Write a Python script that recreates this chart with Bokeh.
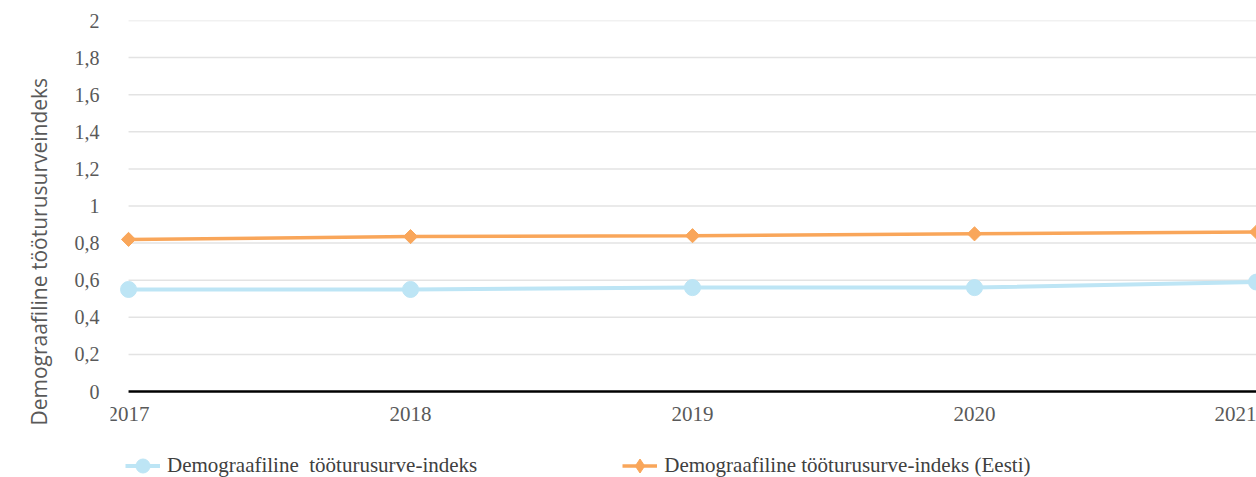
import math
from bokeh.plotting import figure
from bokeh.models import Range1d, Legend, LegendItem, FixedTicker, ColumnDataSource
from bokeh.embed import file_html
from bokeh.resources import INLINE

years = [2017, 2018, 2019, 2020, 2021]
index_local = [0.55, 0.55, 0.56, 0.56, 0.59]
index_eesti = [0.82, 0.835, 0.84, 0.85, 0.86]
y_ticks = [0, 0.2, 0.4, 0.6, 0.8, 1.0, 1.2, 1.4, 1.6, 1.8, 2.0]
y_tick_labels = ["0", "0,2", "0,4", "0,6", "0,8", "1", "1,2", "1,4", "1,6", "1,8", "2"]
series_names = ["Demograafiline  tööturusurve-indeks", "Demograafiline tööturusurve-indeks (Eesti)"]
y_title = "Demograafiline  tööturusurveindeks"

BLUE = "#bde5f5"
ORANGE = "#f9a65a"
TICK_COLOR = "#595959"
SERIF = "Liberation Serif"

# layout: value axis occupies 371px, area below zero holds tick labels and legend
PLOT_PX = 371
BELOW_PX = 86
y_start = y_ticks[0] - (y_ticks[-1] - y_ticks[0]) * BELOW_PX / PLOT_PX

p = figure(frame_width=1146, frame_height=PLOT_PX + BELOW_PX, output_backend="svg", toolbar_location=None,
           x_range=Range1d(years[0] - 0.064, years[-1]), y_range=Range1d(y_start, y_ticks[-1]),
           min_border_left=110, min_border_right=0, min_border_top=20, min_border_bottom=0)
p.outline_line_color = None
p.background_fill_color = "white"
p.border_fill_color = "white"

# grid lines drawn only over the year span
p.xgrid.visible = False
p.ygrid.visible = False
gy = y_ticks[1:]
p.segment(x0=[years[0]] * len(gy), x1=[years[-1]] * len(gy), y0=gy, y1=gy,
          line_color="#e3e3e3", line_width=1.5)
p.segment(x0=[years[0]], x1=[years[-1]], y0=[y_ticks[0]], y1=[y_ticks[0]],
          line_color="black", line_width=2.5)

# y axis
p.yaxis.ticker = FixedTicker(ticks=y_ticks)
p.yaxis.major_label_overrides = {t: l for t, l in zip(y_ticks, y_tick_labels)}
p.yaxis.axis_line_color = None
p.yaxis.major_tick_line_color = None
p.yaxis.minor_tick_line_color = None
p.yaxis.major_label_text_font = SERIF
p.yaxis.major_label_text_font_size = "20px"
p.yaxis.major_label_text_color = TICK_COLOR
p.yaxis.major_label_standoff = 5
p.yaxis.axis_label = y_title
p.yaxis.axis_label_text_font = "Open Sans"
p.yaxis.axis_label_text_font_style = "normal"
p.yaxis.axis_label_text_font_size = "21px"
p.yaxis.axis_label_text_color = TICK_COLOR
p.yaxis.axis_label_standoff = 19

# x axis, drawn at value zero
p.xaxis.fixed_location = y_ticks[0]
p.xaxis.ticker = FixedTicker(ticks=years)
p.xaxis.axis_line_color = None
p.xaxis.major_tick_line_color = None
p.xaxis.minor_tick_line_color = None
p.xaxis.major_label_text_font = SERIF
p.xaxis.major_label_text_font_size = "21px"
p.xaxis.major_label_text_color = TICK_COLOR
p.xaxis.major_label_standoff = 9

src = ColumnDataSource(dict(x=years, a=index_local, b=index_eesti))
l1 = p.line("x", "a", source=src, line_color=BLUE, line_width=4)
m1 = p.scatter("x", "a", source=src, marker="circle", size=16, fill_color=BLUE, line_color=BLUE)
l2 = p.line("x", "b", source=src, line_color=ORANGE, line_width=3.5)
m2 = p.scatter("x", "b", source=src, marker="square", size=10, angle=math.pi / 4,
               fill_color=ORANGE, line_color=ORANGE)
# legend-only diamond key (no data points, so nothing is drawn in the plot)
key2 = p.scatter(x=[float("nan")], y=[float("nan")], marker="diamond", size=14,
                 fill_color=ORANGE, line_color=ORANGE)

legend = Legend(items=[LegendItem(label=series_names[0], renderers=[l1, m1]),
                       LegendItem(label=series_names[1], renderers=[l2, key2])],
                orientation="horizontal", location=(15, -6),
                label_text_font=SERIF, label_text_font_size="21px", label_text_color="#404040",
                label_standoff=7, glyph_width=35, glyph_height=35, label_height=20,
                spacing=145, padding=0, margin=0,
                border_line_color=None, background_fill_alpha=0)
p.add_layout(legend, "center")

open("out.html", "w").write(file_html(p, INLINE))
